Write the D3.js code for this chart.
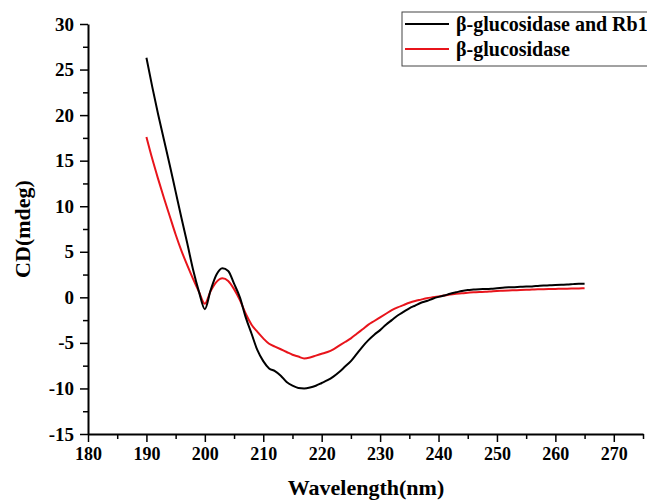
<!DOCTYPE html>
<html>
<head>
<meta charset="utf-8">
<script src="https://cdn.jsdelivr.net/npm/d3@7"></script>
<style>
  body { margin: 0; background: #fff; }
  svg text { font-family: "Liberation Serif", "Times New Roman", serif; font-weight: bold; }
</style>
</head>
<body>
<div id="chart"></div>
<script>
const width = 647;
const height = 500;

// wavelength (nm) for every sample, 1 nm apart
const wavelengths = d3.range(190, 266);

// CD (mdeg) of β-glucosidase and Rb1
const cdComplex = [
  26.3, 23.1, 20.1, 17.3, 14.5, 11.6, 8.7, 5.9, 3.0, 0.6,
  -1.3, 0.8, 2.5, 3.2, 2.9, 1.5, 0.0, -2.2, -4.0, -5.8,
  -7.0, -7.8, -8.1, -8.6, -9.3, -9.7, -9.95, -10.0, -9.9, -9.7,
  -9.4, -9.1, -8.7, -8.2, -7.6, -7.0, -6.2, -5.4, -4.7, -4.1,
  -3.6, -3.0, -2.5, -2.0, -1.6, -1.2, -0.9, -0.6, -0.4, -0.15,
  0.05, 0.2, 0.4, 0.55, 0.7, 0.8, 0.85, 0.9, 0.92, 0.95,
  1.0, 1.05, 1.1, 1.12, 1.15, 1.18, 1.2, 1.25, 1.3, 1.32,
  1.35, 1.38, 1.4, 1.45, 1.5, 1.5
];

// CD (mdeg) of β-glucosidase alone
const cdEnzyme = [
  17.6, 15.2, 13.0, 10.9, 8.9, 6.9, 5.1, 3.5, 2.0, 0.6,
  -0.7, 0.7, 1.7, 2.1, 1.8, 0.9, -0.3, -1.8, -3.0, -3.8,
  -4.5, -5.1, -5.4, -5.7, -6.0, -6.3, -6.5, -6.7, -6.6, -6.4,
  -6.2, -6.0, -5.7, -5.3, -4.9, -4.5, -4.0, -3.5, -3.0, -2.6,
  -2.2, -1.8, -1.4, -1.1, -0.85, -0.6, -0.4, -0.25, -0.1, 0.0,
  0.1, 0.2, 0.3, 0.38, 0.45, 0.5, 0.55, 0.58, 0.6, 0.65,
  0.7, 0.72, 0.75, 0.78, 0.8, 0.82, 0.85, 0.88, 0.9, 0.91,
  0.92, 0.94, 0.95, 0.97, 0.98, 1.0
];

const seriesNames = ["β-glucosidase and Rb1", "β-glucosidase"];
const seriesColors = ["#000000", "#e8141b"];
const xTicks = [180, 190, 200, 210, 220, 230, 240, 250, 260, 270];
const yTicks = [-15, -10, -5, 0, 5, 10, 15, 20, 25, 30];

const svg = d3.select("#chart")
  .append("svg")
  .attr("width", width)
  .attr("height", height);

const xScale = d3.scaleLinear().domain([180, 275]).range([88, 643]);
const yScale = d3.scaleLinear().domain([-15, 30]).range([434, 24]);

// plain hyphen for negatives, like the original
const fmt = d => String(d);

// minor ticks first, then the major axis on top
svg.append("g")
  .attr("transform", "translate(0,434)")
  .call(d3.axisBottom(xScale).tickValues(d3.range(185, 276, 10)).tickSize(5).tickFormat(""))
  .call(g => g.select(".domain").remove())
  .selectAll("line").attr("stroke-width", 1.5);

svg.append("g")
  .attr("transform", "translate(88,0)")
  .call(d3.axisLeft(yScale).tickValues(d3.range(-12.5, 30, 5)).tickSize(5).tickFormat(""))
  .call(g => g.select(".domain").remove())
  .selectAll("line").attr("stroke-width", 1.5);

let xAxisG = svg.append("g")
  .attr("transform", "translate(0,434)")
  .call(d3.axisBottom(xScale).tickValues(xTicks).tickFormat(fmt).tickSize(8).tickSizeOuter(0).tickPadding(5));
xAxisG.select(".domain").attr("stroke-width", 2);
xAxisG.selectAll("line").attr("stroke-width", 1.5);
xAxisG.selectAll("text").attr("font-size", 18).attr("fill", "#000");

let yAxisG = svg.append("g")
  .attr("transform", "translate(88,0)")
  .call(d3.axisLeft(yScale).tickValues(yTicks).tickFormat(fmt).tickSize(8).tickSizeOuter(0).tickPadding(6));
yAxisG.select(".domain").attr("stroke-width", 2);
yAxisG.selectAll("line").attr("stroke-width", 1.5);
yAxisG.selectAll("text").attr("font-size", 19).attr("fill", "#000");

// axis titles
svg.append("text")
  .attr("x", 366)
  .attr("y", 495)
  .attr("text-anchor", "middle")
  .attr("font-size", 22)
  .text("Wavelength(nm)");

svg.append("text")
  .attr("transform", "translate(30,229) rotate(-90)")
  .attr("text-anchor", "middle")
  .attr("font-size", 22)
  .text("CD(mdeg)");

// curves
const line = d3.line()
  .x((d, i) => xScale(wavelengths[i]))
  .y(d => yScale(d))
  .curve(d3.curveMonotoneX);

[cdEnzyme, cdComplex].forEach((values, k) => {
  svg.append("path")
    .datum(values)
    .attr("fill", "none")
    .attr("stroke", seriesColors[1 - k])
    .attr("stroke-width", 2)
    .attr("stroke-linejoin", "round")
    .attr("d", line);
});

// legend
const legend = svg.append("g");
legend.append("rect")
  .attr("x", 402).attr("y", 12)
  .attr("width", 260).attr("height", 54)
  .attr("fill", "#fff")
  .attr("stroke", "#444")
  .attr("stroke-width", 1);

seriesNames.forEach((name, i) => {
  const y = 24 + i * 25;
  legend.append("line")
    .attr("x1", 405).attr("x2", 449)
    .attr("y1", y).attr("y2", y)
    .attr("stroke", seriesColors[i])
    .attr("stroke-width", 2);
  legend.append("text")
    .attr("x", 456)
    .attr("y", y + 7)
    .attr("font-size", 20)
    .text(name);
});
</script>
</body>
</html>
